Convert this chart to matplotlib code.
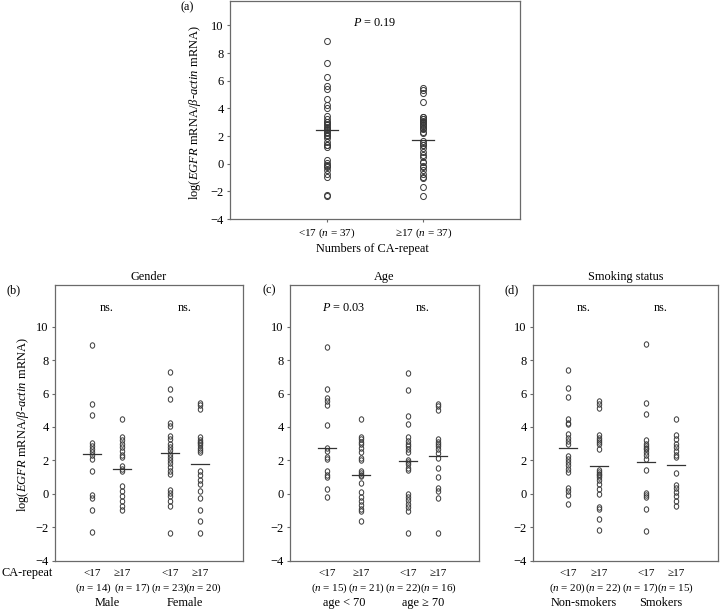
import numpy as np
import matplotlib
matplotlib.use("Agg")
import matplotlib.pyplot as plt
from matplotlib.markers import MarkerStyle
from matplotlib.transforms import Affine2D, blended_transform_factory

plt.rcParams['font.family'] = ['Liberation Serif', 'DejaVu Serif']
plt.rcParams['mathtext.fontset'] = 'custom'
plt.rcParams['mathtext.rm'] = 'Liberation Serif'
plt.rcParams['mathtext.it'] = 'Liberation Serif:italic'
plt.rcParams['mathtext.bf'] = 'Liberation Serif:bold'

# ---------------- data ----------------
male_lt17 = [8.9, 5.4, 4.7, 3.05, 2.85, 2.65, 2.5, 2.3, 2.05, 1.35, -0.1, -0.25, -0.95, -2.3]
male_ge17 = [4.45, 3.4, 3.2, 3.0, 2.8, 2.55, 2.3, 2.2, 1.65, 1.5, 1.35, 0.45, 0.15, -0.15,
             -0.45, -0.75, -1.0]
female_lt17 = [7.3, 6.25, 5.65, 4.25, 4.05, 3.45, 3.25, 3.0, 2.8, 2.6, 2.4, 2.2, 2.0, 1.85,
               1.6, 1.35, 1.2, 0.25, 0.05, -0.15, -0.45, -0.75, -2.35]
female_ge17 = [5.45, 5.3, 5.1, 3.4, 3.2, 3.1, 3.05, 2.9, 2.75, 2.6, 2.5, 1.35, 1.1, 0.85,
               0.6, 0.15, -0.25, -0.95, -1.65, -2.35]

age_lt70_lt17 = [8.8, 6.3, 5.75, 5.55, 5.3, 4.1, 2.75, 2.55, 2.2, 2.05, 1.35, 1.15, 1.0, 0.3, -0.2]
age_lt70_ge17 = [4.45, 3.4, 3.25, 3.1, 2.95, 2.75, 2.5, 2.15, 2.0, 1.35, 1.25, 1.15, 1.05,
                 0.65, 0.1, -0.2, -0.45, -0.7, -0.9, -1.05, -1.65]
age_ge70_lt17 = [7.25, 6.2, 4.65, 4.2, 3.4, 3.15, 3.0, 2.85, 2.7, 2.5, 2.0, 1.9, 1.75, 1.55,
                 1.4, 0.0, -0.2, -0.4, -0.6, -0.8, -1.05, -2.35]
age_ge70_ge17 = [5.4, 5.25, 5.0, 3.3, 3.1, 2.95, 2.85, 2.65, 2.45, 2.15, 1.55, 1.0, 0.35,
                 0.15, -0.25, -2.35]

nonsmk_lt17 = [7.4, 6.35, 5.8, 4.45, 4.25, 4.15, 3.55, 3.35, 3.15, 2.95, 2.25, 2.05, 1.9,
               1.7, 1.5, 1.3, 0.35, 0.15, -0.1, -0.6]
nonsmk_ge17 = [5.55, 5.4, 5.15, 3.5, 3.35, 3.2, 3.1, 3.0, 2.65, 1.45, 1.3, 1.2, 1.15, 1.0,
               0.85, 0.6, 0.3, 0.0, -0.8, -0.9, -1.5, -2.2]
smk_lt17 = [8.95, 5.45, 4.75, 3.2, 3.0, 2.85, 2.75, 2.65, 2.5, 2.3, 2.1, 1.45, 0.05, -0.05,
            -0.2, -0.9, -2.25]
smk_ge17 = [4.5, 3.5, 3.25, 3.0, 2.8, 2.55, 2.3, 2.2, 1.25, 0.55, 0.35, 0.1, -0.15, -0.45, -0.75]

all_lt17 = male_lt17 + female_lt17
all_ge17 = male_ge17 + female_ge17

# centre lines as drawn in the picture
lines_a = [2.45, 1.72]
lines_b = [2.35, 1.5, 2.45, 1.75]
lines_c = [2.75, 1.15, 1.95, 2.25]
lines_d = [2.72, 1.68, 1.9, 1.7]

cat_a = ['<17 ($\\mathit{n}$ = 37)', '≥17 ($\\mathit{n}$ = 37)']
repeat_labels = ['<17', '≥17', '<17', '≥17']
n_b = [14, 17, 23, 20]
n_c = [15, 21, 22, 16]
n_d = [20, 22, 17, 15]
groups_b = ['Male', 'Female']
groups_c = ['age < 70', 'age ≥ 70']
groups_d = ['Non-smokers', 'Smokers']
notes_b = ['ns.', 'ns.']
notes_c = ['$\\mathit{P}$ = 0.03', 'ns.']
notes_d = ['ns.', 'ns.']

# ---------------- layout ----------------
W, H = 720, 610
fig = plt.figure(figsize=(W / 100, H / 100), dpi=100)


def add_ax(l, r, t, b):
    return fig.add_axes([l / W, 1 - b / H, (r - l) / W, (b - t) / H])


FRAME = '#6a6a6a'
PT_COL = '#3a3a3a'
FS_TICK = 9.0
FS_CAT = 8.0
FS_TXT = 8.8
ylabel_txt = 'log($\\mathit{EGFR}$ mRNA/$\\mathit{β}$-$\\mathit{actin}$ mRNA)'


def style(ax):
    for s in ax.spines.values():
        s.set_color(FRAME)
        s.set_linewidth(0.9)
    ax.set_yticks(range(-4, 11, 2))
    ax.set_yticklabels(['−4', '−2', '0', '2', '4', '6', '8', '10'])
    ax.tick_params(axis='y', direction='out', length=2.5, width=0.8, color=FRAME,
                   pad=2, labelsize=FS_TICK)
    ax.tick_params(axis='x', direction='out', length=2.5, width=0.8, color=FRAME,
                   pad=3, labelsize=FS_CAT)


# ---- panel (a)
axa = add_ax(230, 520, 0.5, 219)
style(axa)
axa.set_xlim(0, 3)
axa.set_ylim(-4, 11.8)
mk_a = MarkerStyle('o', transform=Affine2D().scale(0.95, 1.0))
for i, vals in enumerate([all_lt17, all_ge17]):
    x = np.full(len(vals), i + 1.0)
    axa.plot(x, vals, linestyle='none', marker=mk_a, ms=4.4, mfc='none',
             mec=PT_COL, mew=0.7)
    axa.plot([i + 1 - 0.115, i + 1 + 0.115], [lines_a[i]] * 2, color='#333333', lw=0.9)
axa.set_xticks([1, 2])
axa.set_xticklabels(cat_a, fontsize=FS_CAT)
axa.text(1.5, 10.15, '$\\mathit{P}$ = 0.19', ha='center', va='center', fontsize=FS_TXT)
fig.text(372 / W, 1 - 249 / H, 'Numbers of CA-repeat', ha='center', va='center', fontsize=FS_TXT)
fig.text(195 / W, 1 - 113 / H, ylabel_txt, rotation=90, ha='center', va='center', fontsize=9)
fig.text(187 / W, 1 - 7 / H, '(a)', ha='center', va='center', fontsize=FS_TXT)

# ---- lower panels
mk_low = MarkerStyle('o', transform=Affine2D().scale(0.82, 1.0))
panels = [
    dict(box=(55, 243), pos=[0.197, 0.356, 0.612, 0.771], npos=[38, 77, 114, 148],
         data=[male_lt17, male_ge17, female_lt17, female_ge17], lines=lines_b, n=n_b,
         groups=groups_b, notes=notes_b, title='Gender', tag='(b)', tagx=14),
    dict(box=(290, 479), pos=[0.196, 0.376, 0.624, 0.783], npos=[39, 76, 113, 148],
         data=[age_lt70_lt17, age_lt70_ge17, age_ge70_lt17, age_ge70_ge17], lines=lines_c,
         n=n_c, groups=groups_c, notes=notes_c, title='Age', tag='(c)', tagx=269),
    dict(box=(533, 718), pos=[0.19, 0.357, 0.611, 0.773], npos=[34, 70, 107, 142],
         data=[nonsmk_lt17, nonsmk_ge17, smk_lt17, smk_ge17], lines=lines_d, n=n_d,
         groups=groups_d, notes=notes_d, title='Smoking status', tag='(d)', tagx=512),
]

for k, p in enumerate(panels):
    l, r = p['box']
    ax = add_ax(l, r, 285, 560.5)
    style(ax)
    ax.set_xlim(0, 1)
    ax.set_ylim(-4, 12.5)
    for i, vals in enumerate(p['data']):
        x = np.full(len(vals), p['pos'][i])
        ax.plot(x, vals, linestyle='none', marker=mk_low, ms=3.9, mfc='none',
                mec=PT_COL, mew=0.7)
        ax.plot([p['pos'][i] - 0.048, p['pos'][i] + 0.048], [p['lines'][i]] * 2,
                color='#333333', lw=0.9)
    ax.set_xticks(p['pos'])
    ax.set_xticklabels([])
    ax.tick_params(axis='x', length=0)
    tr = blended_transform_factory(ax.transData, fig.transFigure)
    for i in range(4):
        ax.text(p['pos'][i], 1 - 573 / H, repeat_labels[i], transform=tr, ha='center',
                va='center', fontsize=FS_CAT)
        fig.text((l + p['npos'][i]) / W, 1 - 588 / H, '($\\mathit{n}$ = %d)' % p['n'][i],
                 ha='center', va='center', fontsize=7.9)
    for g in range(2):
        xc = (p['pos'][2 * g] + p['pos'][2 * g + 1]) / 2
        ax.text(xc, 1 - 603 / H, p['groups'][g], transform=tr, ha='center', va='center',
                fontsize=FS_TXT)
        ax.text(xc, 11.1, p['notes'][g], ha='center', va='center', fontsize=FS_TXT)
    fig.text((l + r) / 2 / W, 1 - 277 / H, p['title'], ha='center', va='center', fontsize=FS_TXT)
    fig.text(p['tagx'] / W, 1 - 290 / H, p['tag'], ha='center', va='center', fontsize=FS_TXT)
    if k == 0:
        fig.text(23 / W, 1 - 425 / H, ylabel_txt, rotation=90, ha='center', va='center',
                 fontsize=9)

fig.text(2 / W, 1 - 573 / H, 'CA-repeat', ha='left', va='center', fontsize=FS_TXT)

fig.savefig('out.png', dpi=100)
